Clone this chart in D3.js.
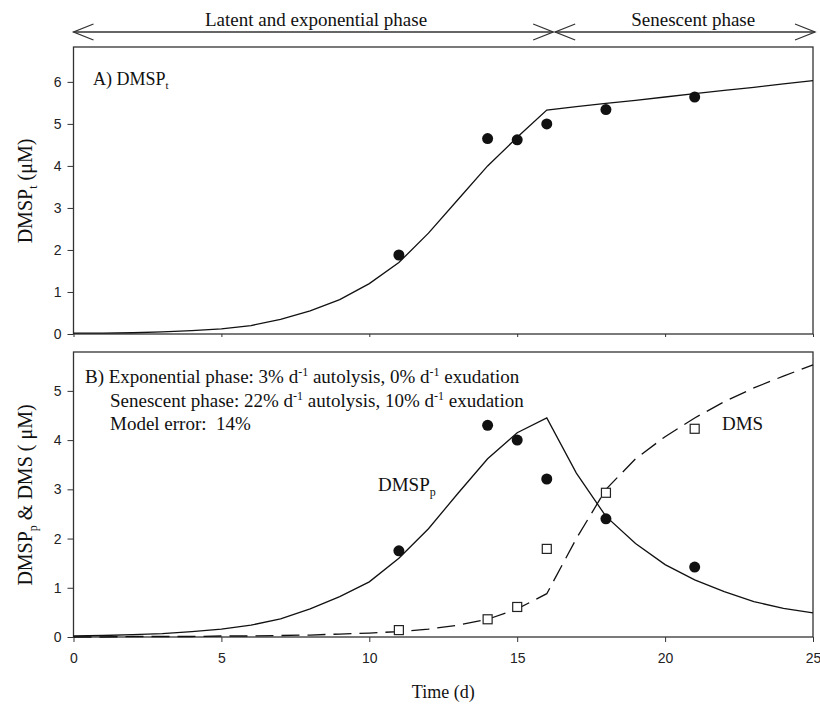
<!DOCTYPE html>
<html>
<head>
<meta charset="utf-8">
<script src="https://cdn.jsdelivr.net/npm/d3@7"></script>
<style>
  body { margin: 0; background: #fff; }
  svg text { font-family: "Liberation Serif", "Times New Roman", serif; fill: #111; }
  .tick text { font-family: "Liberation Sans", Arial, sans-serif; font-size: 14px; fill: #222; }
  .tick line { stroke: #333; }
</style>
</head>
<body>
<div id="chart"></div>
<script>
// Sampling days and measured values
const sampleDays = [11, 14, 15, 16, 18, 21];
const dmsptObs = [1.88, 4.65, 4.62, 5.0, 5.34, 5.64];
const dmsppObs = [1.75, 4.3, 4.0, 3.21, 2.4, 1.42];
const dmsObs   = [0.14, 0.36, 0.61, 1.79, 2.93, 4.23];

// Model output, one value per day
const modelDays = [0, 1, 2, 3, 4, 5, 6, 7, 8, 9, 10, 11, 12, 13, 14, 15, 16, 17, 18, 19, 20, 21, 22, 23, 24, 25];
const dmsptModel = [0.02, 0.02, 0.03, 0.05, 0.08, 0.12, 0.2, 0.35, 0.55, 0.82, 1.2, 1.7, 2.4, 3.2, 4.0, 4.68, 5.33,
                    5.41, 5.49, 5.56, 5.64, 5.72, 5.8, 5.87, 5.95, 6.03];
const dmsppModel = [0.02, 0.03, 0.05, 0.07, 0.11, 0.16, 0.24, 0.37, 0.57, 0.82, 1.12, 1.6, 2.2, 2.92, 3.62, 4.15, 4.45,
                    3.33, 2.45, 1.9, 1.47, 1.16, 0.92, 0.72, 0.58, 0.49];
const dmsModel   = [0, 0, 0.01, 0.01, 0.01, 0.02, 0.02, 0.03, 0.04, 0.06, 0.08, 0.11, 0.16, 0.24, 0.36, 0.57, 0.88,
                    2.0, 3.0, 3.62, 4.07, 4.45, 4.78, 5.06, 5.3, 5.53];

// Axis ticks and phases
const xTicks = [0, 5, 10, 15, 20, 25];
const yTicksA = [0, 1, 2, 3, 4, 5, 6];
const yTicksB = [0, 1, 2, 3, 4, 5];
const phaseBreak = 16.25;

const width = 820, height = 704;
const margin = {left: 73.5, right: 7};

const svg = d3.select("#chart")
  .append("svg")
    .attr("width", width)
    .attr("height", height);

// Scales
const x = d3.scaleLinear().domain([0, 25]).range([margin.left, width - margin.right]);
const yA = d3.scaleLinear().domain([0, 6.83]).range([334, 47]);
const yB = d3.scaleLinear().domain([0, 5.79]).range([637, 352]);

// Panel frames
function frame(y) {
  svg.append("rect")
    .attr("x", x(0)).attr("y", y.range()[1])
    .attr("width", x(25) - x(0)).attr("height", y.range()[0] - y.range()[1])
    .attr("fill", "none").attr("stroke", "#333").attr("stroke-width", 1.3);
}
frame(yA);
frame(yB);

// Axes
function leftAxis(y, ticks) {
  const g = svg.append("g")
    .attr("transform", `translate(${x(0)},0)`)
    .call(d3.axisLeft(y).tickValues(ticks).tickFormat(d3.format("d")).tickSize(6).tickPadding(6));
  g.select(".domain").remove();
}
leftAxis(yA, yTicksA);
leftAxis(yB, yTicksB);

const axA = svg.append("g")
  .attr("transform", `translate(0,${yA(0)})`)
  .call(d3.axisBottom(x).tickValues(xTicks).tickSize(3).tickFormat(""));
axA.select(".domain").remove();

const axB = svg.append("g")
  .attr("transform", `translate(0,${yB(0)})`)
  .call(d3.axisBottom(x).tickValues(xTicks).tickSize(5).tickPadding(11).tickFormat(d3.format("d")));
axB.select(".domain").remove();

// Lines
const modelA = modelDays.map((d, i) => [d, dmsptModel[i]]);
const modelP = modelDays.map((d, i) => [d, dmsppModel[i]]);
const modelD = modelDays.map((d, i) => [d, dmsModel[i]]);

const lineA = d3.line().x(d => x(d[0])).y(d => yA(d[1]));
const lineB = d3.line().x(d => x(d[0])).y(d => yB(d[1]));

svg.append("path").attr("d", lineA(modelA))
  .attr("fill", "none").attr("stroke", "#111").attr("stroke-width", 1.3);
svg.append("path").attr("d", lineB(modelP))
  .attr("fill", "none").attr("stroke", "#111").attr("stroke-width", 1.3);
svg.append("path").attr("d", lineB(modelD))
  .attr("fill", "none").attr("stroke", "#111").attr("stroke-width", 1.3)
  .attr("stroke-dasharray", "18,8");

// Observations
svg.selectAll(".obsA")
  .data(sampleDays.map((d, i) => [d, dmsptObs[i]]))
  .enter().append("circle")
    .attr("class", "obsA")
    .attr("cx", d => x(d[0])).attr("cy", d => yA(d[1]))
    .attr("r", 5.5).attr("fill", "#111");

svg.selectAll(".obsP")
  .data(sampleDays.map((d, i) => [d, dmsppObs[i]]))
  .enter().append("circle")
    .attr("class", "obsP")
    .attr("cx", d => x(d[0])).attr("cy", d => yB(d[1]))
    .attr("r", 5.5).attr("fill", "#111");

svg.selectAll(".obsD")
  .data(sampleDays.map((d, i) => [d, dmsObs[i]]))
  .enter().append("rect")
    .attr("class", "obsD")
    .attr("x", d => x(d[0]) - 4.5).attr("y", d => yB(d[1]) - 4.5)
    .attr("width", 9).attr("height", 9)
    .attr("fill", "#fff").attr("stroke", "#222").attr("stroke-width", 1.2);

// Phase arrows along the top
const arrowY = 32;
function arrow(x0, x1) {
  svg.append("line")
    .attr("x1", x0).attr("x2", x1).attr("y1", arrowY).attr("y2", arrowY)
    .attr("stroke", "#333").attr("stroke-width", 1.3);
  [[x0, 1], [x1, -1]].forEach(([tip, dir]) => {
    svg.append("path")
      .attr("d", `M${tip + dir * 20},${arrowY - 8}L${tip},${arrowY}L${tip + dir * 20},${arrowY + 8}`)
      .attr("fill", "none").attr("stroke", "#333").attr("stroke-width", 1.3);
  });
}
arrow(x(0), x(phaseBreak) - 1);
arrow(x(phaseBreak) + 1, x(25) + 2);

svg.append("text")
  .attr("x", x(8.2)).attr("y", 26)
  .attr("text-anchor", "middle").attr("font-size", 19)
  .text("Latent and exponential phase");
svg.append("text")
  .attr("x", x(20.95)).attr("y", 26)
  .attr("text-anchor", "middle").attr("font-size", 19)
  .text("Senescent phase");

// Panel labels
const labA = svg.append("text").attr("x", 93).attr("y", 85).attr("font-size", 18);
labA.append("tspan").text("A) DMSP");
labA.append("tspan").attr("dy", 4).attr("font-size", 11).text("t");

// text line with "d-1" superscripts; parts alternate plain text and {sup}
function supLine(xp, yp, parts) {
  const t = svg.append("text").attr("x", xp).attr("y", yp).attr("font-size", 19)
    .style("white-space", "pre");
  let shift = 0;
  parts.forEach(p => {
    if (typeof p === "string") {
      t.append("tspan").attr("dy", shift).text(p);
      shift = 0;
    } else {
      t.append("tspan").attr("dy", -7).attr("font-size", 12).text(p.sup);
      shift = 7;
    }
  });
}
supLine(85, 383, ["B) Exponential phase: 3% d", {sup: "-1"}, " autolysis, 0% d", {sup: "-1"}, " exudation"]);
supLine(110, 407, ["Senescent phase: 22% d", {sup: "-1"}, " autolysis, 10% d", {sup: "-1"}, " exudation"]);
supLine(110, 430, ["Model error:  14%"]);

const labP = svg.append("text").attr("x", 378).attr("y", 491).attr("font-size", 19);
labP.append("tspan").text("DMSP");
labP.append("tspan").attr("dy", 5).attr("font-size", 12).text("p");

svg.append("text").attr("x", 722).attr("y", 430).attr("font-size", 19).text("DMS");

// Axis titles
const tA = svg.append("text")
  .attr("transform", `translate(32,${191}) rotate(-90)`)
  .attr("text-anchor", "middle").attr("font-size", 20);
tA.append("tspan").text("DMSP");
tA.append("tspan").attr("dy", 5).attr("font-size", 12).text("t");
tA.append("tspan").attr("dy", -5).text(" (\u03bcM)");

const tB = svg.append("text")
  .attr("transform", `translate(32,${495}) rotate(-90)`)
  .attr("text-anchor", "middle").attr("font-size", 20);
tB.append("tspan").text("DMSP");
tB.append("tspan").attr("dy", 5).attr("font-size", 12).text("p");
tB.append("tspan").attr("dy", -5).text(" & DMS ( \u03bcM)");

svg.append("text")
  .attr("x", (x(0) + x(25)) / 2).attr("y", 698)
  .attr("text-anchor", "middle").attr("font-size", 18)
  .text("Time (d)");
</script>
</body>
</html>
